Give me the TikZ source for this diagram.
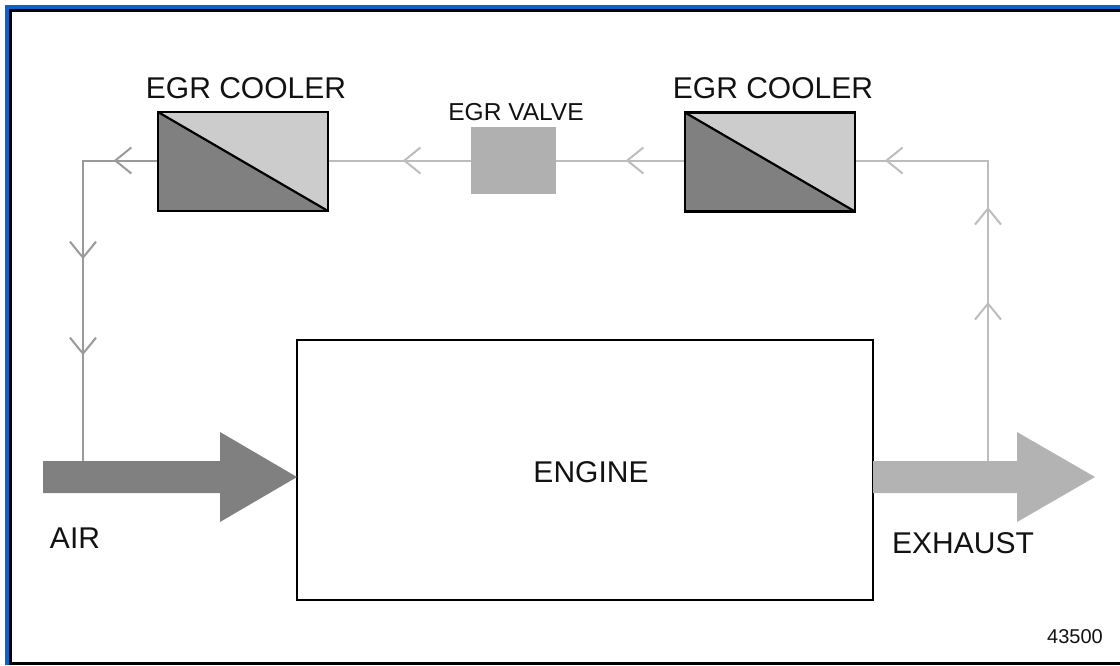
\documentclass[tikz,border=0pt]{standalone}
\usepackage{fontspec}
\setmainfont{Liberation Sans}
\usetikzlibrary{arrows.meta,decorations.markings}
\definecolor{frameblue}{HTML}{0A64C8}
\definecolor{darkg}{HTML}{808080}
\definecolor{lightg}{HTML}{CCCCCC}
\definecolor{valveg}{HTML}{B0B0B0}
\definecolor{exhg}{HTML}{B3B3B3}
\definecolor{flowdark}{HTML}{9A9A9A}
\definecolor{flowlight}{HTML}{BDBDBD}
\tikzset{
  barb/.tip={Straight Barb[length=16pt,width=26pt,line width=2pt]},
  cooler/.style={draw=black,line width=2.5pt,fill=lightg,minimum width=170pt,minimum height=99pt,inner sep=0pt,
    path picture={\fill[darkg] (path picture bounding box.north west) -- (path picture bounding box.south east) -- (path picture bounding box.south west) -- cycle;
      \draw[line width=2.2pt] (path picture bounding box.north west) -- (path picture bounding box.south east);}},
  valvebox/.style={fill=valveg,minimum width=85pt,minimum height=67pt,inner sep=0pt},
  bigtxt/.style={anchor=base,inner sep=0pt,font=\fontsize{30}{36}\selectfont,text=black!93},
  midtxt/.style={anchor=base,inner sep=0pt,font=\fontsize{24.5}{30}\selectfont,text=black!93},
  smalltxt/.style={anchor=base,inner sep=0pt,font=\fontsize{20}{24}\selectfont,text=black!93},
  flow/.style={line width=2pt},
}
\begin{document}
\begin{tikzpicture}[x=1pt,y=-1pt]
\useasboundingbox (0,0) rectangle (1120,665);
\fill[white] (0,0) rectangle (1120,665);
% frame
\draw[frameblue,line width=4pt] (7,665) -- (7,7) -- (1120,7);
\draw[black,line width=3pt] (1120,663.5) -- (10.5,663.5) -- (10.5,10.5) -- (1120,10.5);

% components
\node[cooler] (c1) at (243,161.5) {};
\node[cooler] (c2) at (770,162) {};
\node[valvebox] (valve) at (513.5,160.5) {};
\node[draw,line width=2pt,minimum width=576pt,minimum height=260pt,inner sep=0pt] (engine) at (585,470) {};

% labels
\node[bigtxt] (l1) at (246,98) {EGR COOLER};
\node[bigtxt] (l2) at (773,98) {EGR COOLER};
\node[midtxt] (lv) at (516,120) {EGR VALVE};
\node[bigtxt] (le) at (591,482) {ENGINE};
\node[bigtxt] (lair) at (75,548) {AIR};
\node[bigtxt] (lex) at (963,553) {EXHAUST};
\node[smalltxt] (lnum) at (1075,643) {43500};

% big arrows
\fill[darkg] (43,461) -- (220,461) -- (220,432) -- (297,477) -- (220,522) -- (220,493) -- (43,493) -- cycle;
\fill[exhg] (873,461) -- (1017,461) -- (1017,432) -- (1095,477) -- (1017,522) -- (1017,493) -- (873,493) -- cycle;

\coordinate (airtop) at (83,461);
\coordinate (exhtop) at (988,461);
\coordinate (lcorner) at (83,160.5);
\coordinate (rcorner) at (988,160.5);

% EGR flow
\draw[flow,flowlight,postaction={decorate},decoration={markings,
   mark=at position 159pt with {\arrow{barb}},
   mark=at position 254pt with {\arrow{barb}},
   mark=at position 403.5pt with {\arrow{barb}}}]
  (exhtop) -- (rcorner) -- (c2.east |- rcorner);
\draw[flow,flowlight,postaction={decorate},decoration={markings,
   mark=at position 58pt with {\arrow{barb}}}]
  (c2.west |- rcorner) -- (valve.east |- rcorner);
\draw[flow,flowlight,postaction={decorate},decoration={markings,
   mark=at position 68pt with {\arrow{barb}}}]
  (valve.west |- rcorner) -- (c1.east |- rcorner);
\draw[flow,flowdark,postaction={decorate},decoration={markings,
   mark=at position 43pt with {\arrow{barb}},
   mark=at position 172.5pt with {\arrow{barb}},
   mark=at position 268.5pt with {\arrow{barb}}}]
  (c1.west |- lcorner) -- (lcorner) -- (airtop);
\end{tikzpicture}
\end{document}
